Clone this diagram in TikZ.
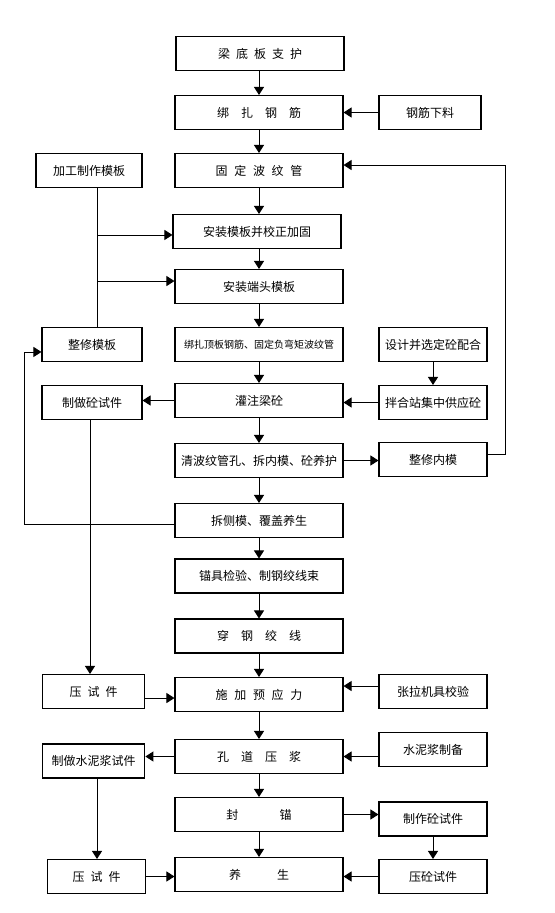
\documentclass[tikz,border=0pt]{standalone}
\usepackage{fontspec}
\setmainfont{Noto Sans CJK SC}
\usetikzlibrary{calc}
\usetikzlibrary{positioning}
\usetikzlibrary{arrows.meta}

\begin{document}
\begin{tikzpicture}[x=0.75pt,y=0.75pt,yscale=-1,xscale=1,
    box/.style={draw,line width=0.8pt,inner sep=0pt,minimum height=25.5pt,font=\fontsize{9}{11}\selectfont},
    mainbox/.style={box,minimum width=126pt},
    sidebox/.style={box,minimum width=81pt},
    link/.style={line width=0.7pt,-{Triangle[length=6pt,width=7.5pt]}},
    joint/.style={line width=0.7pt}]
                  \useasboundingbox (0,0) rectangle (554,913);

                  % main column
                  \node[mainbox] (liangdi) at (260,53.5) {梁\hspace{4.5pt}底\hspace{4.5pt}板\hspace{4.5pt}支\hspace{4.5pt}护};
                  \node[mainbox] (bangzha) at (259,112.5) {绑\hspace{9pt}扎\hspace{9pt}钢\hspace{9pt}筋};
                  \node[mainbox] (guding) at (259,170.5) {固\hspace{5pt}定\hspace{5pt}波\hspace{5pt}纹\hspace{5pt}管};
                  \node[mainbox] (anzhuang) at (257,231.5) {安装模板并校正加固};
                  \node[mainbox] (duantou) at (259,286.5) {安装端头模板};
                  \node[mainbox,font=\fontsize{7.5}{9}\selectfont] (dingban) at (259,344.5) {绑扎顶板钢筋、固定负弯矩波纹管};
                  \node[mainbox] (guanzhu) at (259,400.5) {灌注梁砼};
                  \node[mainbox] (qingbo) at (259,460.5) {清波纹管孔、拆内模、砼养护};
                  \node[mainbox] (chaice) at (259,520.5) {拆侧模、覆盖养生};
                  \node[mainbox] (maoju) at (259,576) {锚具检验、制钢绞线束};
                  \node[mainbox] (chuan) at (259,636) {穿\hspace{9pt}钢\hspace{9pt}绞\hspace{9pt}线};
                  \node[mainbox] (shijia) at (259,694.5) {施\hspace{5pt}加\hspace{5pt}预\hspace{5pt}应\hspace{5pt}力};
                  \node[mainbox] (kongdao) at (259,756.5) {孔\hspace{9pt}道\hspace{9pt}压\hspace{9pt}浆};
                  \node[mainbox] (fengmao) at (259,814.5) {封\hspace{31pt}锚};
                  \node[mainbox] (yangsheng) at (259,874.5) {养\hspace{27pt}生};

                  % left column
                  \node[sidebox,minimum width=79.5pt] (jiagong) at (89,170.5) {加工制作模板};
                  \node[sidebox,minimum width=75pt] (zhengxiu) at (92,344.5) {整修模板};
                  \node[sidebox,minimum width=75pt] (tongshi) at (92,402.5) {制做砼试件};
                  \node[sidebox,minimum width=77pt] (yashiA) at (93.5,691.5) {压\hspace{4.5pt}试\hspace{4.5pt}件};
                  \node[sidebox,minimum width=77pt] (shuinishi) at (93.5,761) {制做水泥浆试件};
                  \node[sidebox,minimum width=73pt] (yashiB) at (96.5,876.5) {压\hspace{4.5pt}试\hspace{4.5pt}件};

                  % right column
                  \node[sidebox,minimum width=76.5pt] (xialiao) at (430,112.5) {钢筋下料};
                  \node[sidebox] (sheji) at (433,344.5) {设计并选定砼配合};
                  \node[sidebox] (banhe) at (433,402.5) {拌合站集中供应砼};
                  \node[sidebox] (neimo) at (433,459.5) {整修内模};
                  \node[sidebox] (zhangla) at (433,691.5) {张拉机具校验};
                  \node[sidebox] (shuinijiang) at (433,749.5) {水泥浆制备};
                  \node[sidebox] (zhizuo) at (433,819) {制作砼试件};
                  \node[sidebox] (yatong) at (433,876.5) {压砼试件};

                  % turning points
                  \coordinate (trunkA) at (97,0);
                  \coordinate (trunkB) at (90,0);
                  \coordinate (loopL) at (24,0);
                  \coordinate (loopR) at (505,0);

                  % main flow
                  \draw[link] (liangdi.south -| bangzha) -- (bangzha.north);
                  \draw[link] (bangzha.south) -- (guding.north);
                  \draw[link] (guding.south) -- (guding.south |- anzhuang.north);
                  \draw[link] (duantou.north |- anzhuang.south) -- (duantou.north);
                  \draw[link] (duantou.south) -- (dingban.north);
                  \draw[link] (dingban.south) -- (guanzhu.north);
                  \draw[link] (guanzhu.south) -- (qingbo.north);
                  \draw[link] (qingbo.south) -- (chaice.north);
                  \draw[link] (chaice.south) -- (maoju.north);
                  \draw[link] (maoju.south) -- (chuan.north);
                  \draw[link] (chuan.south) -- (shijia.north);
                  \draw[link] (shijia.south) -- (kongdao.north);
                  \draw[link] (kongdao.south) -- (fengmao.north);
                  \draw[link] (fengmao.south) -- (yangsheng.north);

                  % left side
                  \draw[joint] (jiagong.south -| trunkA) -- (zhengxiu.north -| trunkA);
                  \draw[link] ([yshift=2.6]trunkA |- anzhuang.west) -- ([yshift=2.6]anzhuang.west);
                  \draw[link] ([yshift=-4.1]trunkA |- duantou.west) -- ([yshift=-4.1]duantou.west);
                  \draw[link] ([yshift=2.6]chaice.west) -- ([yshift=2.6]chaice.west -| loopL) -- ([yshift=5.6]loopL |- zhengxiu.west) -- ([yshift=5.6]zhengxiu.west);
                  \draw[link] (guanzhu.west) -- (tongshi.east |- guanzhu.west);
                  \draw[link] (tongshi.south -| trunkB) -- (yashiA.north -| trunkB);
                  \draw[link] ([yshift=4.9]yashiA.east) -- ([yshift=4.9]yashiA.east -| shijia.west);
                  \draw[link] (kongdao.west) -- (shuinishi.east |- kongdao.west);
                  \draw[link] (shuinishi.south -| trunkA) -- (yashiB.north -| trunkA);
                  \draw[link] (yashiB.east) -- (yashiB.east -| yangsheng.west);

                  % right side
                  \draw[link] (xialiao.west) -- (xialiao.west -| bangzha.east);
                  \draw[link] (sheji.south) -- (banhe.north);
                  \draw[link] (banhe.west) -- (banhe.west -| guanzhu.east);
                  \draw[link] (qingbo.east) -- (neimo.west |- qingbo.east);
                  \draw[link] ([yshift=-4.1]neimo.east) -- ([yshift=-4.1]neimo.east -| loopR) -- ([yshift=-4.1]loopR |- guding.east) -- ([yshift=-4.1]guding.east);
                  \draw[link] ([yshift=-4.1]zhangla.west) -- ([yshift=-4.1]zhangla.west -| shijia.east);
                  \draw[link] (shuinijiang.west |- kongdao.east) -- (kongdao.east);
                  \draw[link] (fengmao.east) -- (zhizuo.west |- fengmao.east);
                  \draw[link] (zhizuo.south) -- (yatong.north);
                  \draw[link] (yatong.west) -- (yatong.west -| yangsheng.east);

              \end{tikzpicture}
\end{document}
